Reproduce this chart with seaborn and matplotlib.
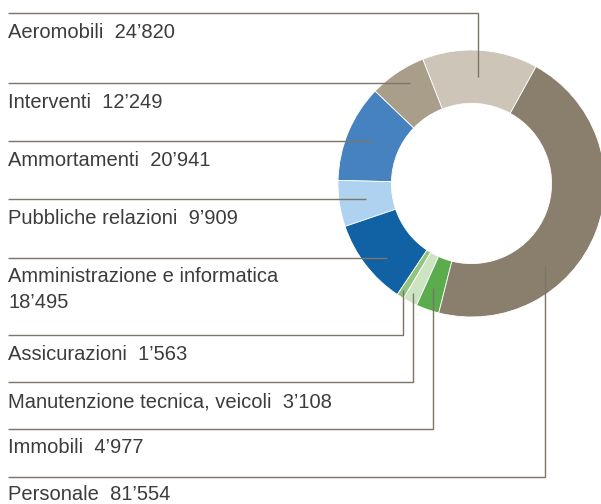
import matplotlib
matplotlib.use("Agg")
import matplotlib.pyplot as plt
import seaborn as sns

# ---- data (label order, top to bottom; also counter-clockwise pie order) ----
categories = ["Aeromobili", "Interventi", "Ammortamenti", "Pubbliche relazioni",
              "Amministrazione e informatica", "Assicurazioni",
              "Manutenzione tecnica, veicoli", "Immobili", "Personale"]
values = [24820, 12249, 20941, 9909, 18495, 1563, 3108, 4977, 81554]
colors = ["#cdc5b7", "#a89e8a", "#4682bf", "#aed2ef", "#1062a5",
          "#93c47d", "#cde4c2", "#5aac4c", "#8a7f6c"]

# ---- layout (pixel coordinates, y downward) ----
W, H = 601, 504
CX, CY, R = 471.5, 183.5, 133.5
# (line_y, line_end_x, anchor_y, text baselines, wrapped label)
layout = [
    (12.5, 478, 77, [38], False),
    (83, 410, None, [108], False),
    (141, 372, None, [166], False),
    (199, 366, None, [224], False),
    (257.5, 387, None, [282, 308], True),
    (334.5, 403, 290, [360], False),
    (381.5, 412.5, 293, [407], False),
    (429, 433, 288, [453], False),
    (476.5, 544.5, 266, [500], False),
]

sns.set_theme(style="white")
plt.rcParams["font.family"] = ["Liberation Sans", "DejaVu Sans"]

fig = plt.figure(figsize=(W / 100, H / 100), dpi=100)
ax = fig.add_axes([0, 0, 1, 1])

def fy(y):
    return H - y

ax.pie(values, colors=colors, startangle=61.1, counterclock=True,
       center=(CX, fy(CY)), radius=R,
       wedgeprops=dict(width=R * 0.4, edgecolor="white", linewidth=0.6),
       frame=True)
ax.set_xlim(0, W)
ax.set_ylim(0, H)
ax.axis("off")

line_color = "#7d7566"
text_color = "#3c3c3c"
for cat, val, (ly, lx, ay, bases, wrap) in zip(categories, values, layout):
    xs, ys = [8, lx], [fy(ly), fy(ly)]
    if ay is not None:
        xs.append(lx)
        ys.append(fy(ay))
    ax.plot(xs, ys, color=line_color, lw=1.0, solid_capstyle="butt", zorder=5)
    num = f"{val:,}".replace(",", "\u2019")
    lines = [cat, num] if wrap else [f"{cat}  {num}"]
    for txt, b in zip(lines, bases):
        ax.text(8, fy(b), txt, fontsize=14.5, color=text_color,
                ha="left", va="baseline")

fig.savefig("out.png", dpi=100)
